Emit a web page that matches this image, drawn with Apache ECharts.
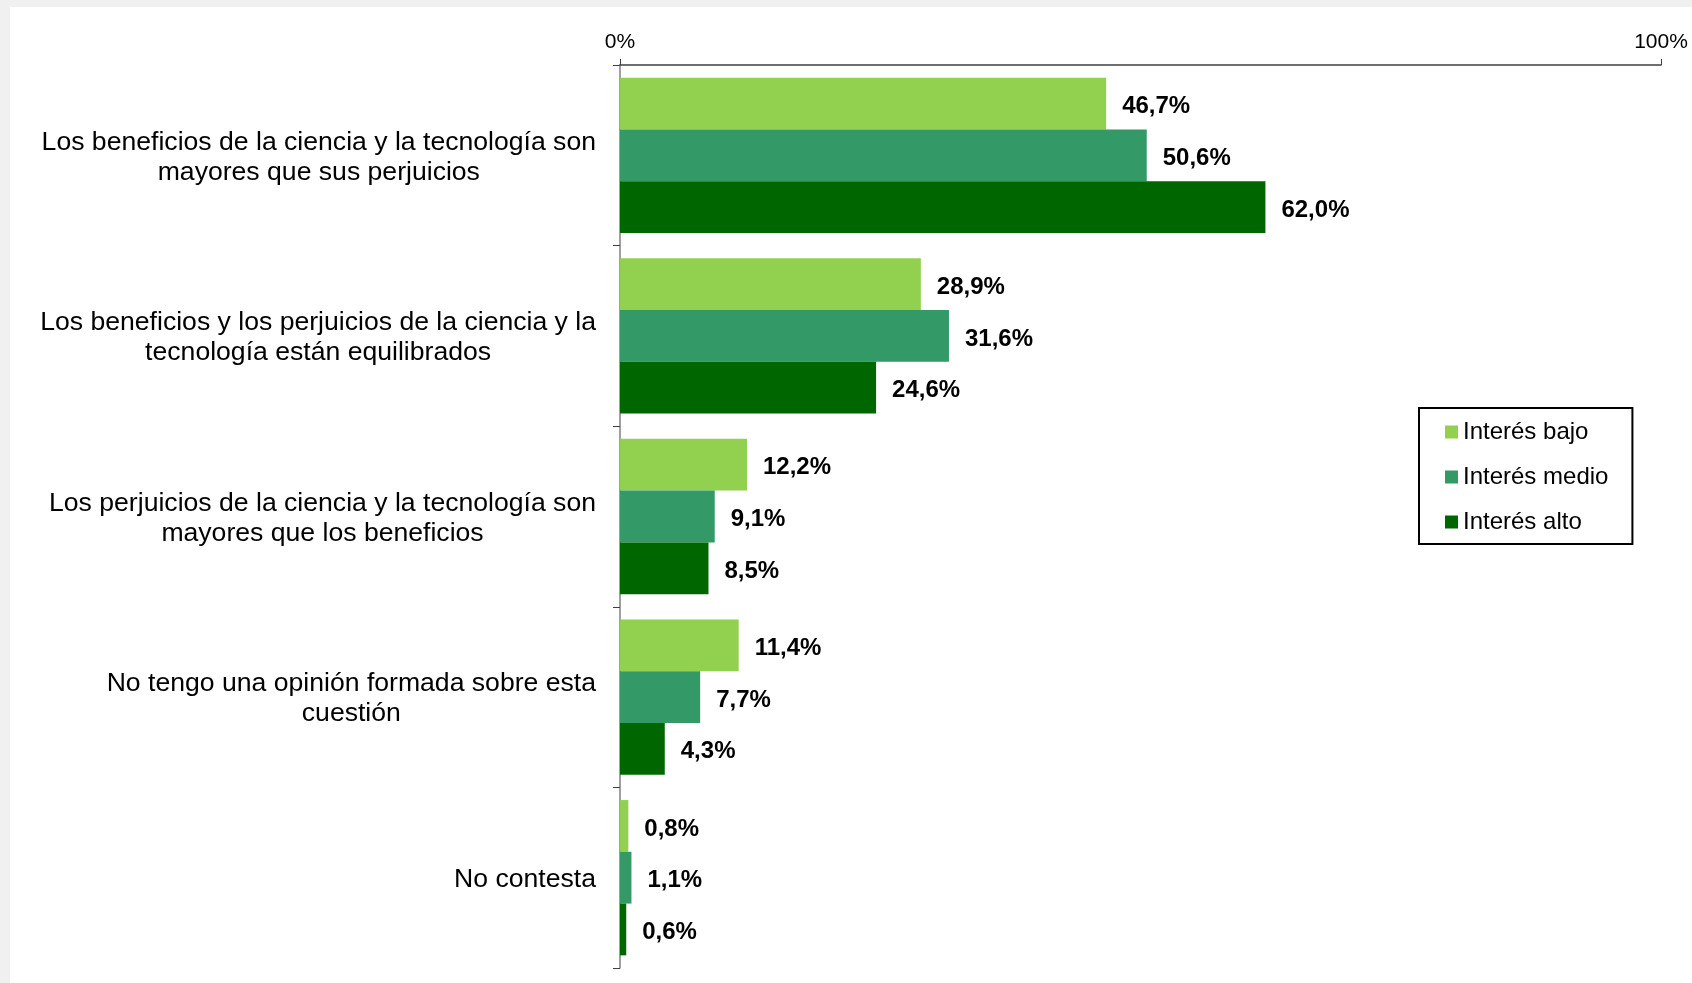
<!DOCTYPE html>
<html>
<head>
<meta charset="utf-8">
<script src="https://cdn.jsdelivr.net/npm/echarts@6/dist/echarts.min.js"></script>
<style>
	html, body { margin: 0; padding: 0; background: #f0f0f0; }
	#chart1 { position: absolute; left: 10px; top: 7px; width: 1682px; height: 976px; background: #fff; }
</style>
</head>
<body>
<div id="chart1"></div>
<script>
var categories = [
	'Los beneficios de la ciencia y la tecnología son\nmayores que sus perjuicios',
	'Los beneficios y los perjuicios de la ciencia y la\ntecnología están equilibrados',
	'Los perjuicios de la ciencia y la tecnología son\nmayores que los beneficios',
	'No tengo una opinión formada sobre esta\ncuestión',
	'No contesta'
];
var seriesNames = ['Interés bajo', 'Interés medio', 'Interés alto'];
var interesBajo = [46.7, 28.9, 12.2, 11.4, 0.8];
var interesMedio = [50.6, 31.6, 9.1, 7.7, 1.1];
var interesAlto = [62.0, 24.6, 8.5, 4.3, 0.6];
var axisTicks = [0, 100];

getChart1();

function makeSeries(name, data){
	return {
		name: name,
		type: 'bar',
		data: data,
		barGap: '0%',
		barCategoryGap: '14%',
		label: {
			show: true,
			position: 'right',
			distance: 16,
			offset: [0, 3],
			color: '#000',
			fontFamily: 'Liberation Sans',
			fontSize: 24,
			fontWeight: 'bold',
			formatter: function(p){
				return p.value.toFixed(1).replace('.', ',') + '%';
			}
		}
	};
}

function getChart1(){
	var chart = echarts.init(document.getElementById('chart1'));
	var option = {
	    animation: false,
	    color: ['#92d050', '#339966', '#006600'],
	    textStyle: {
	        fontFamily: 'Liberation Sans'
	    },
	    grid: {
	        left: 610,
	        right: 31,
	        top: 58,
	        bottom: 15,
	        containLabel: false
	    },
	    legend: {
	        orient: 'vertical',
	        left: 1409,
	        top: 401,
	        icon: 'rect',
	        itemWidth: 13,
	        itemHeight: 13,
	        itemGap: 21,
	        borderColor: '#000',
	        borderWidth: 2,
	        padding: [12, 24, 10, 26],
	        data: seriesNames,
	        textStyle: {
	            color: '#000',
	            fontSize: 24
	        }
	    },
	    xAxis: {
	        type: 'value',
	        position: 'top',
	        min: axisTicks[0],
	        max: axisTicks[axisTicks.length - 1],
	        interval: 100,
	        axisLine: { show: true, lineStyle: { color: '#404040', width: 1.5 } },
	        axisTick: { show: true, length: 6, lineStyle: { color: '#404040' } },
	        splitLine: { show: false },
	        axisLabel: {
	            color: '#000',
	            fontSize: 21,
	            margin: 12,
	            formatter: '{value}%'
	        }
	    },
	    yAxis: {
	        type: 'category',
	        inverse: true,
	        data: categories,
	        axisLine: { show: true, lineStyle: { color: '#808080', width: 1.5 } },
	        axisTick: { show: true, length: 7, lineStyle: { color: '#404040' } },
	        axisLabel: {
	            margin: 24,
	            align: 'right',
	            padding: [4, 0, 0, 0],
	            formatter: function(v){
	                return v.split('\n').map(function(s){ return '{c|' + s + '}'; }).join('\n');
	            },
	            rich: {
	                c: {
	                    align: 'center',
	                    color: '#000',
	                    fontSize: 26.6,
	                    lineHeight: 30,
	                    fontFamily: 'Liberation Sans'
	                }
	            }
	        }
	    },
	    series: [
	        makeSeries(seriesNames[0], interesBajo),
	        makeSeries(seriesNames[1], interesMedio),
	        makeSeries(seriesNames[2], interesAlto)
	    ]
	};
	chart.setOption(option);
}
</script>
</body>
</html>
